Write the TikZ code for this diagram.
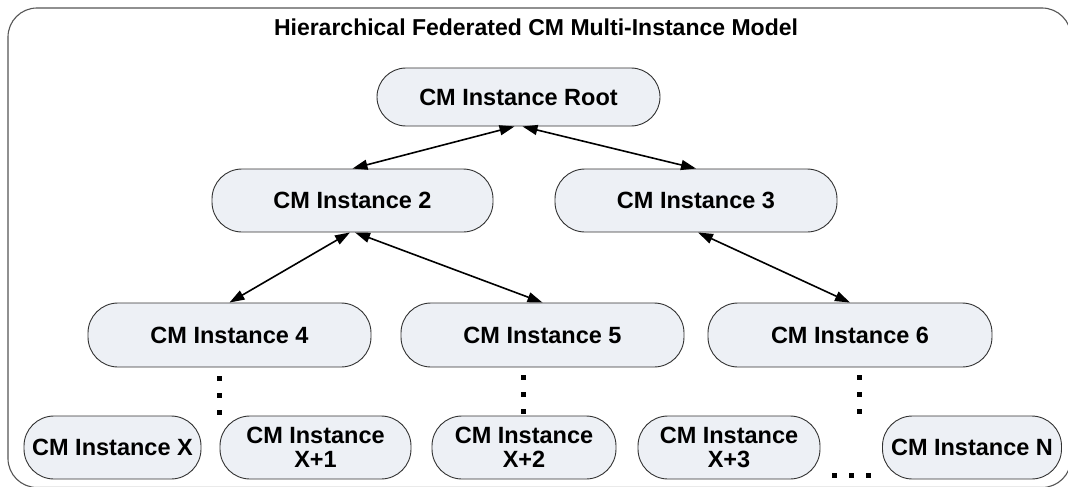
\documentclass[tikz,border=0pt]{standalone}
\usepackage{fontspec}
\setmainfont{Liberation Sans}
\usetikzlibrary{arrows.meta,calc}
\definecolor{cmfill}{RGB}{237,240,245}
\definecolor{cmborder}{RGB}{50,50,50}
\definecolor{frameborder}{RGB}{85,85,85}
\newcommand{\nodefont}{\fontsize{23.5}{24}\selectfont\bfseries}
\newcommand{\titlefont}{\fontsize{23}{26}\selectfont\bfseries}
\tikzset{
  cmbox/.style={draw=cmborder, line width=0.9pt, fill=cmfill, rounded corners=30pt,
    minimum height=63pt, inner sep=0pt, font=\nodefont, align=center},
  link/.style={line width=1.6pt, {Triangle[length=15pt,width=10pt]}-{Triangle[length=15pt,width=10pt]}},
  dotsq/.style={fill=black, draw=none, minimum size=5pt, inner sep=0pt, rectangle}
}
\begin{document}
\begin{tikzpicture}[x=1pt,y=-1pt]
\useasboundingbox (0,0) rectangle (1068,487);
\clip (0,0) rectangle (1068,487);
\draw[frameborder, line width=1.1pt, rounded corners=29pt] (8,8) rectangle (1071,487.5);
\node[font=\titlefont, anchor=base] (title) at (536,36) {Hierarchical Federated CM Multi-Instance Model};

\node[cmbox, minimum width=283pt, minimum height=58pt, rounded corners=29pt] (root) at (518.5,97) {CM Instance Root};
\node[cmbox, minimum width=281pt] (n2) at (352.5,200.5) {CM Instance 2};
\node[cmbox, minimum width=282pt] (n3) at (696,200.5) {CM Instance 3};
\node[cmbox, minimum width=283pt, minimum height=64pt] (n4) at (229.5,335) {CM Instance 4};
\node[cmbox, minimum width=283pt, minimum height=64pt] (n5) at (542.5,335) {CM Instance 5};
\node[cmbox, minimum width=284pt, minimum height=64pt] (n6) at (850,335) {CM Instance 6};

\node[cmbox, minimum width=177pt] (nx) at (112.5,447.5) {CM Instance X};
\node[cmbox, minimum width=191pt] (nx1) at (315.5,447.5) {CM Instance\\X+1};
\node[cmbox, minimum width=184pt] (nx2) at (524,447.5) {CM Instance\\X+2};
\node[cmbox, minimum width=182pt] (nx3) at (729,447.5) {CM Instance\\X+3};
\node[cmbox, minimum width=179pt] (nn) at (972,447.5) {CM Instance N};

\draw[link] ($(root.south)+(-4,0)$) -- (n2.north);
\draw[link] ($(root.south)+(4,0)$) -- (n3.north);
\draw[link] ($(n2.south)+(-2.5,0)$) -- (n4.north);
\draw[link] ($(n2.south)+(2.5,0)$) -- (n5.north);
\draw[link] ($(n3.south)+(2,0)$) -- (n6.north);

\foreach \i/\y in {1/378,2/395,3/412} {
  \node[dotsq] (da\i) at (219,\y) {};
  \node[dotsq] (db\i) at (523,\y-1) {};
  \node[dotsq] (dc\i) at (859,\y-1) {};
}
\foreach \i/\x in {1/834,2/851,3/868} {
  \node[dotsq] (dh\i) at (\x,475) {};
}
\end{tikzpicture}
\end{document}
